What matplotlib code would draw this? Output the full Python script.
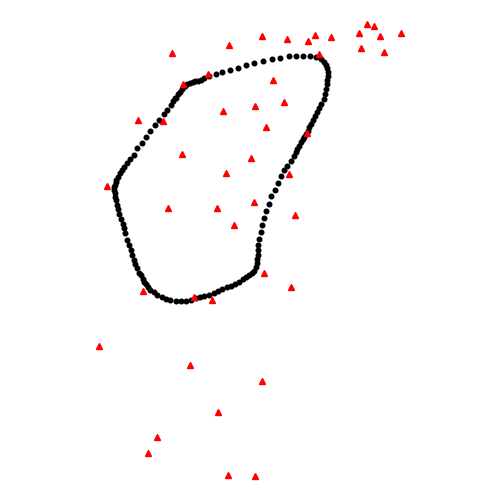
import numpy as np
import matplotlib
matplotlib.use('Agg')
import matplotlib.pyplot as plt

# red triangle points (x, y)
tri_x = [172, 229, 262, 287, 308, 315, 331, 319, 208, 183, 273, 284, 255, 223,
         138, 163, 266, 307, 182, 251, 367, 374, 359, 380, 401, 361, 384,
         226, 289, 107, 168, 217, 254, 295, 234, 264, 291, 143, 194, 212,
         99, 190, 262, 218, 157, 148, 228, 255]
tri_y = [53, 45, 36, 39, 41, 35, 37, 54, 74, 84, 80, 102, 106, 111,
         120, 121, 127, 133, 154, 158, 24, 26, 33, 36, 33, 48, 52,
         173, 174, 186, 208, 208, 202, 215, 225, 273, 287, 291, 297, 300,
         346, 365, 381, 412, 437, 453, 475, 476]

# black outline dots, in order around the loop
hull_x = [176, 178, 180, 182, 183, 185, 187, 190, 193, 195, 198, 201, 204, 209,
          216, 222, 230, 238, 246, 254, 263, 272, 280, 289, 296, 303, 310, 316,
          321, 324, 326, 327, 328, 328, 327, 327, 326, 325, 324, 321, 319, 317,
          315, 313, 311, 309, 308, 306, 304, 303, 301, 299, 297, 296, 294, 291,
          287, 284, 281, 278, 275, 271, 269, 266, 264, 262, 261, 259, 258, 258,
          258, 257, 257, 256, 254, 252, 249, 246, 243, 239, 235, 231, 227, 222,
          218, 214, 209, 204, 200, 196, 191, 186, 181, 176, 170, 166, 162, 157,
          154, 150, 148, 146, 144, 143, 141, 139, 137, 135, 134, 132, 131, 129,
          127, 125, 124, 123, 121, 119, 118, 117, 116, 115, 115, 114, 114, 115,
          116, 116, 118, 120, 122, 124, 127, 130, 134, 137, 142, 146, 150, 155,
          159, 164, 167, 171, 173, 175]
hull_y = [98, 94, 92, 89, 87, 86, 84, 83, 82, 81, 81, 80, 78, 76,
          74, 72, 70, 68, 65, 63, 61, 59, 58, 56, 56, 56, 56, 57,
          59, 62, 65, 68, 72, 76, 80, 84, 89, 94, 99, 104, 108, 112,
          116, 120, 124, 127, 131, 134, 137, 139, 142, 146, 149, 152, 156, 161,
          166, 170, 176, 183, 190, 196, 204, 211, 218, 225, 232, 239, 245, 250,
          255, 259, 263, 267, 271, 273, 275, 277, 279, 282, 284, 286, 287, 289,
          291, 293, 295, 296, 297, 298, 300, 301, 301, 301, 300, 299, 297, 295,
          292, 290, 287, 284, 282, 279, 275, 273, 268, 264, 260, 255, 250, 245,
          240, 233, 228, 224, 219, 214, 209, 205, 200, 197, 193, 190, 187, 185,
          182, 180, 177, 173, 170, 167, 163, 159, 155, 148, 143, 137, 131, 125,
          120, 114, 110, 105, 101, 98]

fig = plt.figure(figsize=(5, 5), dpi=100)
ax = fig.add_axes([0, 0, 1, 1])
ax.plot(hull_x, hull_y, 'o', color='black', markersize=3.3, linestyle='none')
ax.plot(tri_x, tri_y, '^', color='red', markersize=4, linestyle='none')
ax.set_xlim(0, 500)
ax.set_ylim(500, 0)
ax.axis('off')
fig.savefig('out.png')
